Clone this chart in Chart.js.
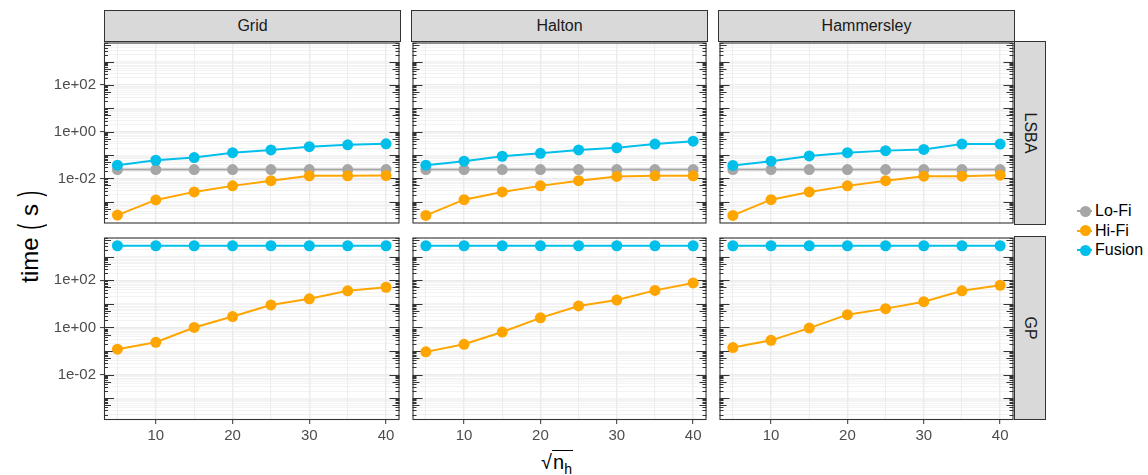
<!DOCTYPE html>
<html>
<head>
<meta charset="utf-8">
<script src="https://cdn.jsdelivr.net/npm/chart.js@4.4.1/dist/chart.umd.min.js"></script>
<style>
  html, body { margin: 0; padding: 0; background: #fff; }
  body { position: relative; width: 1148px; height: 475px; overflow: hidden;
         font-family: "Liberation Sans", Arial, sans-serif; }
  canvas { position: absolute; }
  .strip { position: absolute; box-sizing: border-box; background: #D9D9D9;
           border: 1px solid #333; color: #1A1A1A; font-size: 16px;
           display: flex; align-items: center; justify-content: center; }
  .strip.side span { display: inline-block; transform: rotate(90deg); white-space: nowrap; }
  #ytitle { position: absolute; left: 30px; top: 236px; transform: translate(-50%, -50%) rotate(-90deg);
            white-space: nowrap; font-size: 24px; color: #000; }
  #ytitle .paren { display: inline-block; transform: scale(0.7, 1.3); font-weight: 300; }
  #xtitle { position: absolute; left: 557px; top: 464px; transform: translate(-50%, -50%);
            white-space: nowrap; font-size: 20px; color: #000; }
  #xtitle .rc { border-top: 1.3px solid #000; padding: 0 1px 0 1px; }
  #xtitle sub { font-size: 0.7em; }
  .legend { position: absolute; left: 1076px; top: 201px; font-size: 16px; color: #000; }
  .legend .item { position: relative; height: 19.7px; line-height: 19.7px; padding-left: 19px; }
  .legend .key-line { position: absolute; left: 1px; top: 9px; width: 15px; height: 2px; }
  .legend .key-dot { position: absolute; left: 3.5px; top: 4.5px; width: 11px; height: 11px; border-radius: 50%; }
</style>
</head>
<body>
<div id="ytitle">time <span class="paren">(</span> s <span class="paren">)</span></div>
<div id="xtitle"><span>√</span><span class="rc">n<sub>h</sub></span></div>
<div class="legend" id="legend"></div>

<script>
// x values: square root of the number of high-fidelity samples
const nh = [5, 10, 15, 20, 25, 30, 35, 40];

// facet labels
const samplers = ['Grid', 'Halton', 'Hammersley'];
const surrogates = ['LSBA', 'GP'];

// series labels and colours
const seriesNames = ['Lo-Fi', 'Hi-Fi', 'Fusion'];
const seriesColors = ['#A6A6A6', '#FFA500', '#00BFEA'];

// axis breaks and tick labels
const xBreaks = [10, 20, 30, 40];
const xMinorBreaks = [5, 15, 25, 35];
const yBreaks = [1e-2, 1e0, 1e2];
const yBreakLabels = ['1e-02', '1e+00', '1e+02'];

// time (s) — LSBA surrogate
const lsbaGridLoFi       = [0.024, 0.024, 0.024, 0.024, 0.024, 0.024, 0.024, 0.024];
const lsbaGridHiFi       = [0.00027, 0.0012, 0.00265, 0.0048, 0.0080, 0.0129, 0.0129, 0.0133];
const lsbaGridFusion     = [0.037, 0.060, 0.0785, 0.127, 0.166, 0.228, 0.276, 0.304];
const lsbaHaltonLoFi     = [0.024, 0.024, 0.024, 0.024, 0.024, 0.024, 0.024, 0.024];
const lsbaHaltonHiFi     = [0.00026, 0.00123, 0.00265, 0.0048, 0.0080, 0.0122, 0.0129, 0.0129];
const lsbaHaltonFusion   = [0.037, 0.055, 0.089, 0.119, 0.166, 0.206, 0.295, 0.395];
const lsbaHammersleyLoFi   = [0.024, 0.024, 0.024, 0.024, 0.024, 0.024, 0.024, 0.024];
const lsbaHammersleyHiFi   = [0.00026, 0.00123, 0.00265, 0.0048, 0.0080, 0.0125, 0.0125, 0.0137];
const lsbaHammersleyFusion = [0.036, 0.055, 0.092, 0.127, 0.155, 0.175, 0.295, 0.295];

// time (s) — GP surrogate
const gpGridHiFi         = [0.119, 0.235, 1.0, 2.9, 9.0, 16.5, 35.9, 51];
const gpGridFusion       = [2950, 2950, 2950, 2950, 2950, 2950, 2950, 2950];
const gpHaltonHiFi       = [0.092, 0.193, 0.64, 2.56, 8.2, 14.6, 37.5, 78];
const gpHaltonFusion     = [2950, 2950, 2950, 2950, 2950, 2950, 2950, 2950];
const gpHammersleyHiFi   = [0.14, 0.284, 0.94, 3.5, 6.3, 12.4, 36, 62];
const gpHammersleyFusion = [2950, 2950, 2950, 2950, 2950, 2950, 2950, 2950];

// series per facet: [Lo-Fi, Hi-Fi, Fusion] (null = not present)
const facetData = {
  LSBA: {
    Grid:       [lsbaGridLoFi, lsbaGridHiFi, lsbaGridFusion],
    Halton:     [lsbaHaltonLoFi, lsbaHaltonHiFi, lsbaHaltonFusion],
    Hammersley: [lsbaHammersleyLoFi, lsbaHammersleyHiFi, lsbaHammersleyFusion]
  },
  GP: {
    Grid:       [null, gpGridHiFi, gpGridFusion],
    Halton:     [null, gpHaltonHiFi, gpHaltonFusion],
    Hammersley: [null, gpHammersleyHiFi, gpHammersleyFusion]
  }
};

// ---- layout ----
const FONT = '"Liberation Sans", Arial, sans-serif';
const PANEL_LEFT = [104, 411, 718];
const PANEL_TOP = [41, 236];
const PANEL_W = 297;
const PANEL_H = 184;
const STRIP = 31;
const X_MIN = 3.25, X_MAX = 41.75;
const Y_MIN = Math.pow(10, -3.93), Y_MAX = Math.pow(10, 3.82);

// all 1..9 x 10^k values inside the y range: minor grid and log ticks
const yGridValues = [];
for (let e = -5; e <= 4; e++) {
  for (let k = 1; k <= 9; k++) {
    const v = k * Math.pow(10, e);
    if (v >= Y_MIN && v <= Y_MAX) yGridValues.push(v);
  }
}
const isYBreak = v => yBreaks.some(b => Math.abs(Math.log10(v) - Math.log10(b)) < 1e-9);
const yLabelFor = v => {
  const i = yBreaks.findIndex(b => Math.abs(Math.log10(v) - Math.log10(b)) < 1e-9);
  return i >= 0 ? yBreakLabels[i] : '';
};
const mantissa = v => Math.round(v / Math.pow(10, Math.floor(Math.log10(v) + 1e-9)));

// panel border + log ticks on the left and right edges of every panel
const panelDecor = {
  id: 'panelDecor',
  beforeDatasetsDraw(chart) {
    const { ctx, chartArea: a, scales: { y } } = chart;
    ctx.save();
    ctx.strokeStyle = '#333333';
    ctx.lineWidth = 1.1;
    yGridValues.forEach(v => {
      const m = mantissa(v);
      const len = m === 1 ? 10 : (m === 5 ? 7 : 4);
      const py = Math.round(y.getPixelForValue(v)) + 0.5;
      ctx.beginPath();
      ctx.moveTo(a.left, py); ctx.lineTo(a.left + len, py);
      ctx.moveTo(a.right, py); ctx.lineTo(a.right - len, py);
      ctx.stroke();
    });
    ctx.restore();
  },
  afterDraw(chart) {
    const { ctx, chartArea: a } = chart;
    ctx.save();
    ctx.strokeStyle = '#333333';
    ctx.lineWidth = 1.1;
    ctx.strokeRect(a.left + 0.5, a.top + 0.5, a.right - a.left - 1, a.bottom - a.top - 1);
    ctx.restore();
  }
};

function makePanel(row, col) {
  const showY = col === 0;
  const showX = row === 1;
  const L = showY ? 104 : 4, R = 4, T = 4, B = showX ? 52 : 4;
  const w = L + PANEL_W + R, h = T + PANEL_H + B;

  const canvas = document.createElement('canvas');
  canvas.width = w; canvas.height = h;
  canvas.style.left = (PANEL_LEFT[col] - L) + 'px';
  canvas.style.top = (PANEL_TOP[row] - T) + 'px';
  canvas.style.width = w + 'px';
  canvas.style.height = h + 'px';
  document.body.appendChild(canvas);

  const series = facetData[surrogates[row]][samplers[col]];
  const datasets = [];
  // lines first (underneath), then points; Fusion points on top
  const lineOrder = [12, 11, 10];
  const pointOrder = [2, 1, 0];
  series.forEach((vals, s) => {
    if (!vals) return;
    const pts = vals.map((v, i) => ({ x: nh[i], y: v }));
    datasets.push({
      label: seriesNames[s] + ' line', data: pts, order: lineOrder[s],
      borderColor: seriesColors[s], borderWidth: 2, pointRadius: 0, fill: false, tension: 0
    });
    datasets.push({
      label: seriesNames[s], data: pts, order: pointOrder[s], showLine: false,
      pointRadius: 5.5, pointBackgroundColor: seriesColors[s], pointBorderWidth: 0,
      borderColor: seriesColors[s]
    });
  });

  new Chart(canvas, {
    type: 'line',
    data: { datasets },
    plugins: [panelDecor],
    options: {
      responsive: false, animation: false, devicePixelRatio: 1, events: [],
      layout: { padding: { top: T, right: R, left: 0, bottom: 0 } },
      plugins: { legend: { display: false }, tooltip: { enabled: false } },
      scales: {
        x: {
          type: 'linear', min: X_MIN, max: X_MAX,
          afterBuildTicks: s => { s.ticks = xMinorBreaks.concat(xBreaks).sort((a, b) => a - b).map(v => ({ value: v })); },
          afterFit: s => { s.height = B; s.paddingLeft = 0; s.paddingRight = 0; },
          border: { display: false },
          grid: {
            color: '#EBEBEB',
            lineWidth: c => (xBreaks.includes(c.tick.value) ? 1.4 : 0.8),
            drawTicks: showX, tickLength: 4,
            tickColor: c => (xBreaks.includes(c.tick.value) ? '#333333' : 'rgba(0,0,0,0)'),
            tickWidth: 1
          },
          ticks: {
            display: showX, autoSkip: false, maxRotation: 0, padding: 3,
            color: '#4D4D4D', font: { family: FONT, size: 15 },
            callback: v => (xBreaks.includes(v) ? String(v) : '')
          }
        },
        y: {
          type: 'logarithmic', min: Y_MIN, max: Y_MAX,
          afterBuildTicks: s => { s.ticks = yGridValues.map(v => ({ value: v })); },
          afterFit: s => { s.width = L; s.paddingTop = 0; s.paddingBottom = 0; },
          border: { display: false },
          grid: {
            color: '#EBEBEB',
            lineWidth: c => (isYBreak(c.tick.value) ? 1.2 : 0.6),
            drawTicks: showY, tickLength: 4,
            tickColor: c => (isYBreak(c.tick.value) ? '#333333' : 'rgba(0,0,0,0)'),
            tickWidth: 1
          },
          ticks: {
            display: showY, autoSkip: false, padding: 4,
            color: '#4D4D4D', font: { family: FONT, size: 15 },
            callback: v => yLabelFor(v)
          }
        }
      }
    }
  });
}

// facet strips
samplers.forEach((name, col) => {
  const d = document.createElement('div');
  d.className = 'strip';
  d.style.left = PANEL_LEFT[col] + 'px';
  d.style.top = (PANEL_TOP[0] - STRIP) + 'px';
  d.style.width = PANEL_W + 'px';
  d.style.height = (STRIP + 1) + 'px';
  d.textContent = name;
  document.body.appendChild(d);
});
surrogates.forEach((name, row) => {
  const d = document.createElement('div');
  d.className = 'strip side';
  d.style.left = (PANEL_LEFT[2] + PANEL_W - 1) + 'px';
  d.style.top = PANEL_TOP[row] + 'px';
  d.style.width = (STRIP + 1) + 'px';
  d.style.height = PANEL_H + 'px';
  const sp = document.createElement('span');
  sp.textContent = name;
  d.appendChild(sp);
  document.body.appendChild(d);
});

for (let r = 0; r < surrogates.length; r++)
  for (let c = 0; c < samplers.length; c++) makePanel(r, c);

// legend
const legend = document.getElementById('legend');
seriesNames.forEach((name, i) => {
  const item = document.createElement('div');
  item.className = 'item';
  item.innerHTML = '<span class="key-line" style="background:' + seriesColors[i] + '"></span>' +
                   '<span class="key-dot" style="background:' + seriesColors[i] + '"></span>' + name;
  legend.appendChild(item);
});
</script>
</body>
</html>
